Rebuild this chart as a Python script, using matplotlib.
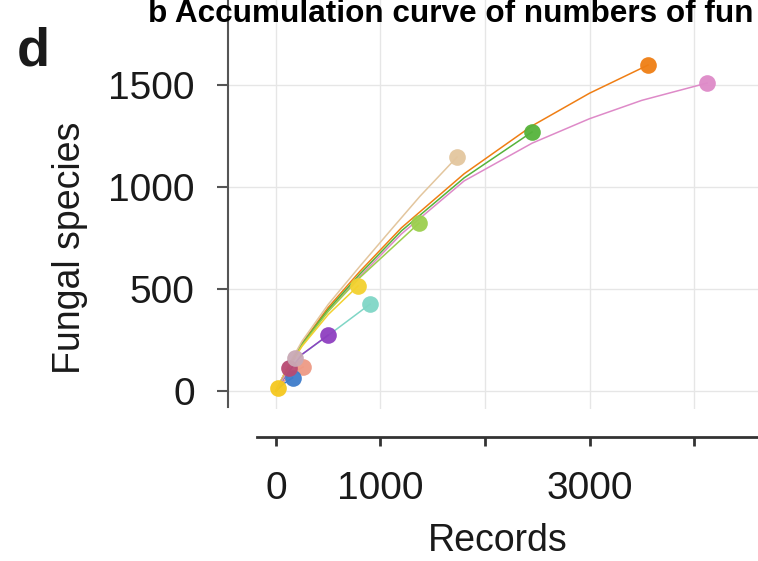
import matplotlib
matplotlib.use('Agg')
import matplotlib.pyplot as plt

plt.rcParams['font.family'] = ['Liberation Sans', 'DejaVu Sans']

# accumulation curves (records, fungal species)
colors = ['#EF7E14', '#DE8AC8', '#55B33B', '#9CCF4E', '#E3C69E', '#F3D12F',
          '#80D6C6', '#8E3FC0', '#EE9A85', '#3E7CCB', '#B84A72', '#C9A9B5', '#F5C81E']

records = [
    [0, 100, 250, 500, 800, 1200, 1800, 2450, 3000, 3560],
    [0, 100, 250, 500, 800, 1200, 1800, 2450, 3000, 3500, 4125],
    [0, 100, 250, 500, 800, 1200, 1800, 2450],
    [0, 100, 250, 500, 800, 1368],
    [0, 100, 250, 500, 800, 1100, 1378, 1732],
    [0, 100, 250, 500, 785],
    [0, 100, 250, 498, 900],
    [0, 100, 250, 498],
    [0, 130, 260],
    [0, 80, 160],
    [0, 125],
    [0, 180],
    [0, 20],
]
species = [
    [0, 105, 235, 410, 585, 800, 1065, 1300, 1460, 1598],
    [0, 102, 228, 395, 560, 770, 1030, 1215, 1335, 1425, 1510],
    [0, 103, 230, 400, 572, 785, 1045, 1270],
    [0, 100, 225, 390, 555, 823],
    [0, 108, 245, 425, 610, 790, 955, 1147],
    [0, 100, 220, 375, 515],
    [0, 80, 180, 272, 426],
    [0, 80, 180, 274],
    [0, 80, 118],
    [0, 38, 65],
    [0, 112],
    [0, 160],
    [0, 15],
]

xticks = [0, 1000, 2000, 3000, 4000]
xticklabels = ['0', '1000', '', '3000', '']
yticks = [0, 500, 1000, 1500]

fig = plt.figure(figsize=(7.58, 5.61), dpi=100)
ax = fig.add_axes([228 / 758, (561 - 409) / 561, 530 / 758, 409 / 561])

for xs, ys, c in zip(records, species, colors):
    ax.plot(xs, ys, color=c, lw=1.1, zorder=2)
for xs, ys, c in zip(records, species, colors):
    ax.plot(xs[-1], ys[-1], 'o', color=c, ms=12, mec='none', alpha=0.95, zorder=3)

ax.set_xlim(-459, 4612)
ax.set_ylim(-88, 1917)
ax.set_xticks(xticks)
ax.set_xticklabels(xticklabels)
ax.set_yticks(yticks)
ax.grid(True, color='#E6E6E6', lw=1)
ax.set_axisbelow(True)

for s in ['top', 'right']:
    ax.spines[s].set_visible(False)
ax.spines['bottom'].set_position(('outward', 20))
ax.spines['bottom'].set_bounds(-180, 4612)
ax.spines['bottom'].set_color('#333333')
ax.spines['bottom'].set_linewidth(2)
ax.spines['left'].set_bounds(-78, 1917)
ax.spines['left'].set_color('#555555')
ax.spines['left'].set_linewidth(1.5)

ax.tick_params(axis='y', length=8, width=1.5, color='#555555', pad=16,
               labelsize=28, labelcolor='#1a1a1a')
ax.tick_params(axis='x', length=6.5, width=2, color='#333333', pad=18,
               labelsize=28, labelcolor='#1a1a1a')

fig.text(70 / 758, 1 - 248 / 561, 'Fungal species', rotation=90,
         ha='center', va='center', fontsize=27, color='#1a1a1a')
fig.text(498 / 758, 1 - 541 / 561, 'Records', ha='center', va='center',
         fontsize=27, color='#1a1a1a')
fig.text(17 / 758, 1 - 65 / 561, 'd', fontsize=39, fontweight='bold',
         va='baseline', color='#1a1a1a')
fig.text(148 / 758, 1 - 22 / 561, 'b Accumulation curve of numbers of fun',
         fontsize=22.7, fontweight='bold', va='baseline', color='black')

fig.savefig('out.png', dpi=100)
